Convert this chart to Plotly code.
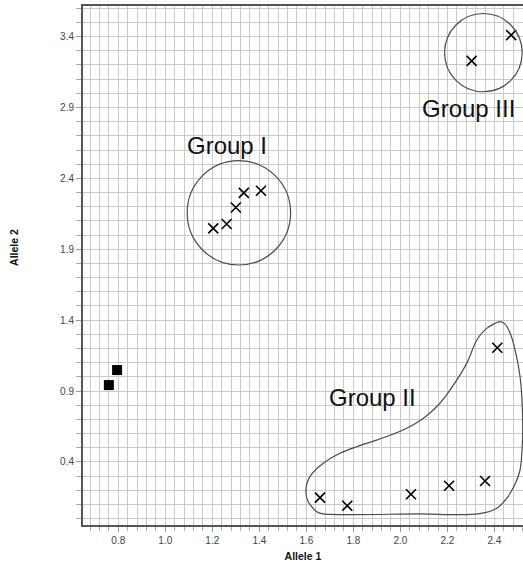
import plotly.graph_objects as go

# ---------------- data ----------------
control_x = [0.76, 0.795]
control_y = [0.942, 1.048]

group1_x = [1.204, 1.261, 1.300, 1.334, 1.407]
group1_y = [2.047, 2.078, 2.195, 2.298, 2.313]

group2_x = [1.658, 1.774, 2.045, 2.207, 2.360, 2.412]
group2_y = [0.148, 0.091, 0.172, 0.232, 0.265, 1.205]

group3_x = [2.303, 2.471]
group3_y = [3.229, 3.411]

# circles around groups I and III (center x, center y, radius x, radius y)
circle_cx = [1.313, 2.353]
circle_cy = [2.157, 3.287]
circle_rx = [0.220, 0.165]
circle_ry = [0.368, 0.276]

# hand-drawn outline around group II
outline_x = [2.424, 2.367, 2.325, 2.282, 2.211, 2.154, 2.097, 2.012, 1.899, 1.814,
             1.743, 1.672, 1.615, 1.598, 1.608, 1.644, 1.672, 2.075, 2.330, 2.410,
             2.452, 2.488, 2.509, 2.519, 2.519, 2.509, 2.488, 2.467, 2.445, 2.424]
outline_y = [1.389, 1.342, 1.260, 1.095, 0.907, 0.789, 0.707, 0.625, 0.554, 0.507,
             0.461, 0.390, 0.296, 0.202, 0.119, 0.049, 0.033, 0.033, 0.033, 0.073,
             0.143, 0.244, 0.343, 0.531, 0.766, 1.001, 1.189, 1.307, 1.372, 1.389]

labels = ["Group I", "Group II", "Group III"]
label_x = [1.264, 1.882, 2.289]
label_y = [2.635, 0.856, 2.892]

x_range = [0.65, 2.5215]
y_range = [-0.045, 3.616]

# ---------------- figure ----------------
fig = go.Figure()

fig.add_trace(go.Scatter(
    x=outline_x, y=outline_y, mode="lines",
    line=dict(color="#4a4a4a", width=1.2, shape="spline", smoothing=0.8),
    hoverinfo="skip", showlegend=False))

cross = dict(symbol="x-thin", size=10, line=dict(width=1.6, color="black"), color="black")
for xs, ys in [(group1_x, group1_y), (group2_x, group2_y), (group3_x, group3_y)]:
    fig.add_trace(go.Scatter(x=xs, y=ys, mode="markers", marker=cross, showlegend=False))

fig.add_trace(go.Scatter(x=control_x, y=control_y, mode="markers",
                         marker=dict(symbol="square", size=10, color="black"),
                         showlegend=False))

for cx, cy, rx, ry in zip(circle_cx, circle_cy, circle_rx, circle_ry):
    fig.add_shape(type="circle", xref="x", yref="y",
                  x0=cx - rx, x1=cx + rx, y0=cy - ry, y1=cy + ry,
                  line=dict(color="#4a4a4a", width=1.2))

for t, lx, ly in zip(labels, label_x, label_y):
    fig.add_annotation(x=lx, y=ly, text=t, showarrow=False,
                       xanchor="center", yanchor="middle",
                       font=dict(family="Liberation Sans, Arial", size=24, color="#111111"))

fig.add_annotation(x=-0.157, y=0.5356, xref="paper", yref="paper", text="<b>Allele 2</b>",
                   showarrow=False, textangle=-90, xanchor="center", yanchor="middle",
                   font=dict(family="Liberation Sans, Arial", size=10.5, color="#111111"))

grid_col = "#c9c9c9"
fig.update_xaxes(
    range=x_range, tick0=0.8, dtick=0.2, ticks="outside", ticklen=5, tickcolor="#999999",
    showgrid=True, gridcolor=grid_col, gridwidth=1,
    minor=dict(tick0=0.8, dtick=0.04, ticks="outside", ticklen=4, tickcolor="#aaaaaa",
               showgrid=True, gridcolor=grid_col, gridwidth=1),
    showline=True, linecolor="#555555", linewidth=2, mirror=True,
    zeroline=False, tickformat=".1f",
    tickfont=dict(family="Liberation Sans, Arial", size=10, color="#444444"),
    title=dict(text="<b>Allele 1</b>", standoff=10,
               font=dict(family="Liberation Sans, Arial", size=10.5, color="#111111")))

fig.update_yaxes(
    range=y_range, tick0=0.4, dtick=0.5, ticks="outside", ticklen=5, tickcolor="#999999",
    showgrid=True, gridcolor=grid_col, gridwidth=1,
    minor=dict(tick0=0.4, dtick=0.1, ticks="outside", ticklen=5, tickcolor="#aaaaaa",
               showgrid=True, gridcolor=grid_col, gridwidth=1),
    showline=True, linecolor="#555555", linewidth=2, mirror=False,
    zeroline=False, tickformat=".1f",
    tickfont=dict(family="Liberation Sans, Arial", size=10, color="#444444"))

fig.update_layout(
    width=523, height=562,
    margin=dict(l=83, r=0, t=6, b=37),
    plot_bgcolor="white", paper_bgcolor="white",
    showlegend=False)

fig.write_html("out.html", config={"displayModeBar": False},
               post_script="document.body.style.margin='0';")
